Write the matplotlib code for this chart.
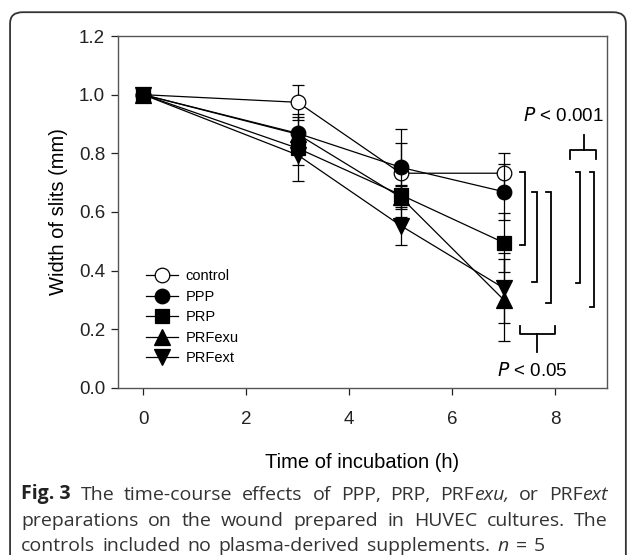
import matplotlib
matplotlib.use("Agg")
import matplotlib.pyplot as plt
from matplotlib.patches import FancyBboxPatch

# ---------------- data ----------------
times = [0, 3, 5, 7]
series_names = ["control", "PPP", "PRP", "PRFexu", "PRFext"]
control = [1.0, 0.974, 0.732, 0.732]
control_err = [0.02, 0.06, 0.15, 0.07]
ppp = [1.0, 0.868, 0.752, 0.669]
ppp_err = [0.02, 0.065, 0.083, 0.095]
prp = [1.0, 0.817, 0.658, 0.495]
prp_err = [0.02, 0.057, 0.035, 0.10]
prfexu = [1.0, 0.865, 0.65, 0.30]
prfexu_err = [0.02, 0.06, 0.04, 0.14]
prfext = [1.0, 0.794, 0.553, 0.34]
prfext_err = [0.02, 0.09, 0.065, 0.12]

xticks = [0, 2, 4, 6, 8]
yticks = [0.0, 0.2, 0.4, 0.6, 0.8, 1.0, 1.2]

# significance brackets: (y_top, y_bottom, x_left, x_right)
brackets = [(0.737, 0.487, 7.32, 7.42),
            (0.667, 0.362, 7.55, 7.65),
            (0.667, 0.288, 7.83, 7.91),
            (0.737, 0.358, 8.40, 8.48),
            (0.737, 0.276, 8.67, 8.76)]

# ---------------- figure ----------------
plt.rcParams['font.family'] = ['Liberation Sans', 'DejaVu Sans']
fig = plt.figure(figsize=(6.29, 5.55), dpi=100)

# outer rounded frame (open at bottom)
frame = FancyBboxPatch((0.016, -0.05), 0.979, 1.028,
                       boxstyle="round,pad=0,rounding_size=0.02",
                       transform=fig.transFigure, fill=False,
                       edgecolor="#333333", linewidth=1.3, clip_on=False)
fig.patches.append(frame)

ax = fig.add_axes([0.187, 0.3014, 0.7776, 0.6336])
ax.set_xlim(-0.5, 9.0)
ax.set_ylim(0.0, 1.2)

styles = [
    (control, control_err, "o", "white"),
    (ppp, ppp_err, "o", "black"),
    (prp, prp_err, "s", "black"),
    (prfexu, prfexu_err, "^", "black"),
    (prfext, prfext_err, "v", "black"),
]
ms = {"o": 10.5, "s": 9.5, "^": 11, "v": 11}
for i, (name, (vals, errs, mk, fc)) in enumerate(zip(series_names, styles)):
    ax.errorbar(times, vals, yerr=errs, fmt="none", ecolor="black",
                elinewidth=0.9, capsize=4.5, capthick=0.9, zorder=2 + i)
    ax.plot(times, vals, color="black", linewidth=0.9, marker=mk,
            markersize=ms[mk], markerfacecolor=fc, markeredgecolor="black",
            markeredgewidth=0.9, label=name, zorder=3 + i)

# brackets
for yt, yb, xl, xr in brackets:
    ax.plot([xl, xr, xr, xl], [yt, yt, yb, yb], color="black", lw=1.3,
            clip_on=False, zorder=10, solid_joinstyle="miter")

# top brace (P < 0.001)
ax.plot([8.29, 8.29, 8.79, 8.79], [0.78, 0.81, 0.81, 0.78], color="black", lw=1.3)
ax.plot([8.56, 8.56], [0.81, 0.862], color="black", lw=1.3)
ax.text(8.16, 0.928, "$P$ < 0.001", ha="center", va="center", fontsize=13.5)

# bottom brace (P < 0.05)
ax.plot([7.32, 7.32, 8.0, 8.0], [0.21, 0.185, 0.185, 0.21], color="black", lw=1.3)
ax.plot([7.65, 7.65], [0.185, 0.123], color="black", lw=1.3)
ax.text(7.55, 0.058, "$P$ < 0.05", ha="center", va="center", fontsize=13.5)

ax.set_xticks(xticks)
ax.set_xticklabels([str(t) for t in xticks])
ax.set_yticks(yticks)
ax.set_yticklabels([f"{t:.1f}" for t in yticks])
ax.tick_params(axis="both", direction="out", length=5, width=0.9,
               labelsize=13.5, colors="#222222", pad=4)
ax.tick_params(axis="x", pad=12)
for sp in ax.spines.values():
    sp.set_color("#555555")
    sp.set_linewidth(1.0)

ax.set_xlabel("Time of incubation (h)", fontsize=14.5, labelpad=18)
ax.set_ylabel("Width of slits (mm)", fontsize=14.5, labelpad=8)

leg = ax.legend(loc="lower left", bbox_to_anchor=(0.028, 0.022), frameon=False,
                fontsize=10.5, handlelength=2.2, handletextpad=0.5,
                labelspacing=0.45, borderaxespad=0.6)

# ---------------- caption (justified) ----------------
cap_font = "Open Sans"
cap_size = 14.0
cap_color = "#333333"
cap_lines = [
    [[("Fig. 3", "bold")], [("The", "normal")], [("time-course", "normal")],
     [("effects", "normal")], [("of", "normal")], [("PPP,", "normal")],
     [("PRP,", "normal")], [("PRF", "normal"), ("exu,", "italic")],
     [("or", "normal")], [("PRF", "normal"), ("ext", "italic")]],
    [[(w, "normal")] for w in
     "preparations on the wound prepared in HUVEC cultures. The".split()],
    [[(w, "normal")] for w in
     "controls included no plasma-derived supplements.".split()]
    + [[("n", "italic")], [("=", "normal")], [("5", "normal")]],
]
justify = [True, True, False]
line_y = [0.100, 0.053, 0.008]
x_left_px, x_right_px = 21, 608

renderer = fig.canvas.get_renderer()
W, H = fig.get_size_inches() * fig.dpi


def style_kw(style):
    return dict(fontsize=cap_size, family=cap_font,
                fontweight="bold" if style == "bold" else "normal",
                fontstyle="italic" if style == "italic" else "normal")


for words, just, ly in zip(cap_lines, justify, line_y):
    word_widths = []
    for word in words:
        wsum = 0
        for txt, style in word:
            t = fig.text(0, 0, txt, **style_kw(style))
            wsum += t.get_window_extent(renderer).width
            t.remove()
        word_widths.append(wsum)
    tsp = fig.text(0, 0, "a b", fontsize=cap_size, family=cap_font)
    tnsp = fig.text(0, 0, "ab", fontsize=cap_size, family=cap_font)
    space = tsp.get_window_extent(renderer).width - tnsp.get_window_extent(renderer).width
    tsp.remove()
    tnsp.remove()
    if just:
        gap = (x_right_px - x_left_px - sum(word_widths)) / (len(words) - 1)
    else:
        gap = space * 1.4
    x = x_left_px
    for word, ww in zip(words, word_widths):
        xx = x
        for txt, style in word:
            t = fig.text(xx / W, ly, txt, color="#222222" if style == "bold" else cap_color,
                         ha="left", va="baseline", **style_kw(style))
            xx += t.get_window_extent(renderer).width
        x += ww + gap

fig.savefig("out.png", dpi=100)
